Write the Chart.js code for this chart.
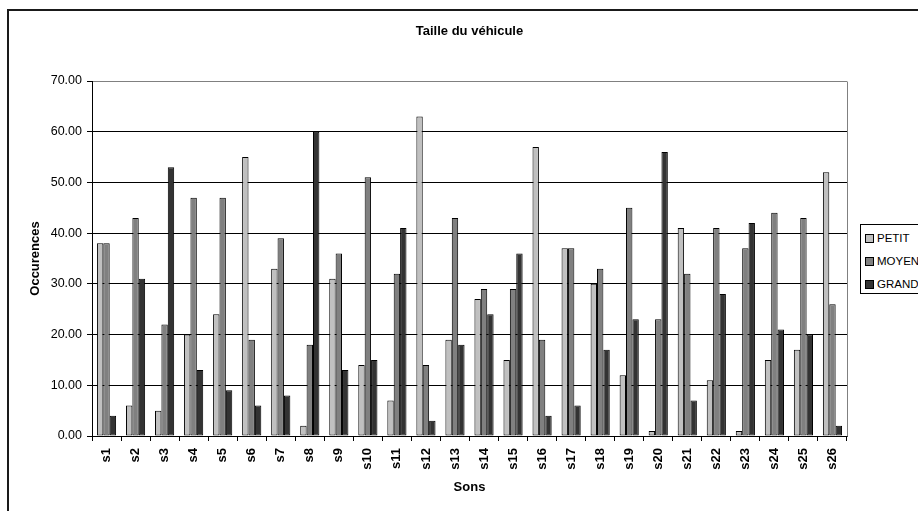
<!DOCTYPE html>
<html>
<head>
<meta charset="utf-8">
<script src="https://cdn.jsdelivr.net/npm/chart.js@4/dist/chart.umd.min.js"></script>
<style>
  html, body { margin: 0; padding: 0; background: #fff; overflow: hidden; width: 918px; height: 511px; }
  #frame { position: absolute; left: 7px; top: 9px; width: 1000px; height: 600px; border: 2px solid #1a1a1a; box-sizing: border-box; }
  #c { position: absolute; left: 0; top: 0; }
  #legend { position: absolute; left: 860px; top: 224px; width: 90px; height: 70px; border: 1px solid #000; background: #fff; box-sizing: border-box; font-family: "Liberation Sans", Arial, sans-serif; font-size: 11.5px; color: #000; }
  .item { position: absolute; left: 4px; height: 14px; line-height: 14px; white-space: nowrap; }
  .sw { position: absolute; left: 0; top: 3px; width: 7px; height: 7px; border: 1px solid #000; }
  .lbl { position: absolute; left: 12px; top: 0; }
</style>
</head>
<body>
<div id="frame"></div>
<canvas id="c" width="940" height="511"></canvas>
<div id="legend"></div>
<script>
const categories = ["s1","s2","s3","s4","s5","s6","s7","s8","s9","s10","s11","s12","s13","s14","s15","s16","s17","s18","s19","s20","s21","s22","s23","s24","s25","s26"];
const petit = [38, 6, 5, 20, 24, 55, 33, 2, 31, 14, 7, 63, 19, 27, 15, 57, 37, 30, 12, 1, 41, 11, 1, 15, 17, 52];
const moyen = [38, 43, 22, 47, 47, 19, 39, 18, 36, 51, 32, 14, 43, 29, 29, 19, 37, 33, 45, 23, 32, 41, 37, 44, 43, 26];
const grand = [4, 31, 53, 13, 9, 6, 8, 60, 13, 15, 41, 3, 18, 24, 36, 4, 6, 17, 23, 56, 7, 28, 42, 21, 20, 2];
const seriesNames = ["PETIT", "MOYEN", "GRAND"];
const seriesColors = ["#c0c0c0", "#808080", "#333333"];
const yTicks = [0, 10, 20, 30, 40, 50, 60, 70];

const FONT = "'Liberation Sans', Arial, sans-serif";

const plotBorder = {
  id: 'plotBorder',
  beforeDatasetsDraw(chart) {
    const a = chart.chartArea;
    const ctx = chart.ctx;
    ctx.save();
    ctx.strokeStyle = '#808080';
    ctx.lineWidth = 1;
    ctx.beginPath();
    ctx.moveTo(Math.round(a.right) + 0.5, Math.round(a.top) + 0.5);
    ctx.lineTo(Math.round(a.right) + 0.5, Math.round(a.bottom) + 0.5);
    ctx.stroke();
    ctx.restore();
  }
};

const data = {
  labels: categories,
  datasets: [petit, moyen, grand].map((vals, i) => ({
    label: seriesNames[i],
    data: vals,
    backgroundColor: seriesColors[i],
    borderColor: '#000',
    borderWidth: 1,
    borderSkipped: false,
    categoryPercentage: 0.66,
    barPercentage: 1.0
  }))
};

new Chart(document.getElementById('c'), {
  type: 'bar',
  data,
  plugins: [plotBorder],
  options: {
    responsive: false,
    animation: false,
    devicePixelRatio: 1,
    layout: { padding: { left: 0, right: 93, top: 0, bottom: 0 } },
    plugins: {
      legend: { display: false },
      tooltip: { enabled: false },
      title: {
        display: true,
        text: 'Taille du véhicule',
        fullSize: false,
        color: '#000',
        font: { family: FONT, size: 13, weight: 'bold', lineHeight: 1.2 },
        padding: { top: 24, bottom: 41.4 }
      }
    },
    scales: {
      x: {
        afterFit(scale) { scale.height = 75; },
        grid: { display: true, offset: true, drawOnChartArea: false, tickLength: 5, color: '#000', tickColor: '#000' },
        border: { display: true, color: '#000', width: 1 },
        ticks: {
          color: '#000',
          font: { family: FONT, size: 13, weight: 'bold' },
          minRotation: 90, maxRotation: 90,
          padding: 7,
          autoSkip: false
        },
        title: {
          display: true, text: 'Sons', color: '#000',
          font: { family: FONT, size: 13, weight: 'bold', lineHeight: 1.2 },
          padding: { top: 0, bottom: 16 }
        }
      },
      y: {
        min: 0, max: 70,
        afterFit(scale) { scale.width = 92; },
        afterBuildTicks(scale) { scale.ticks = yTicks.map(v => ({ value: v })); },
        grid: {
          display: true, tickLength: 5, lineWidth: 1,
          color: (ctx) => (ctx.tick && ctx.tick.value === 70) ? '#808080' : '#000',
          tickColor: '#000'
        },
        border: { display: true, color: '#000', width: 1 },
        ticks: {
          color: '#000',
          font: { family: FONT, size: 12.5 },
          padding: 5,
          callback: (v) => Number(v).toFixed(2)
        },
        title: {
          display: true, text: 'Occurences', color: '#000',
          font: { family: FONT, size: 13, weight: 'bold', lineHeight: 1.2 },
          padding: { top: 27.5, bottom: 0 }
        }
      }
    }
  }
});

// legend built from the series arrays
const legend = document.getElementById('legend');
const rowTops = [6, 29, 52];
seriesNames.forEach((name, i) => {
  const it = document.createElement('div');
  it.className = 'item';
  it.style.top = rowTops[i] + 'px';
  const sw = document.createElement('div');
  sw.className = 'sw';
  sw.style.background = seriesColors[i];
  const lb = document.createElement('span');
  lb.className = 'lbl';
  lb.textContent = name;
  it.appendChild(sw); it.appendChild(lb);
  legend.appendChild(it);
});
</script>
</body>
</html>
